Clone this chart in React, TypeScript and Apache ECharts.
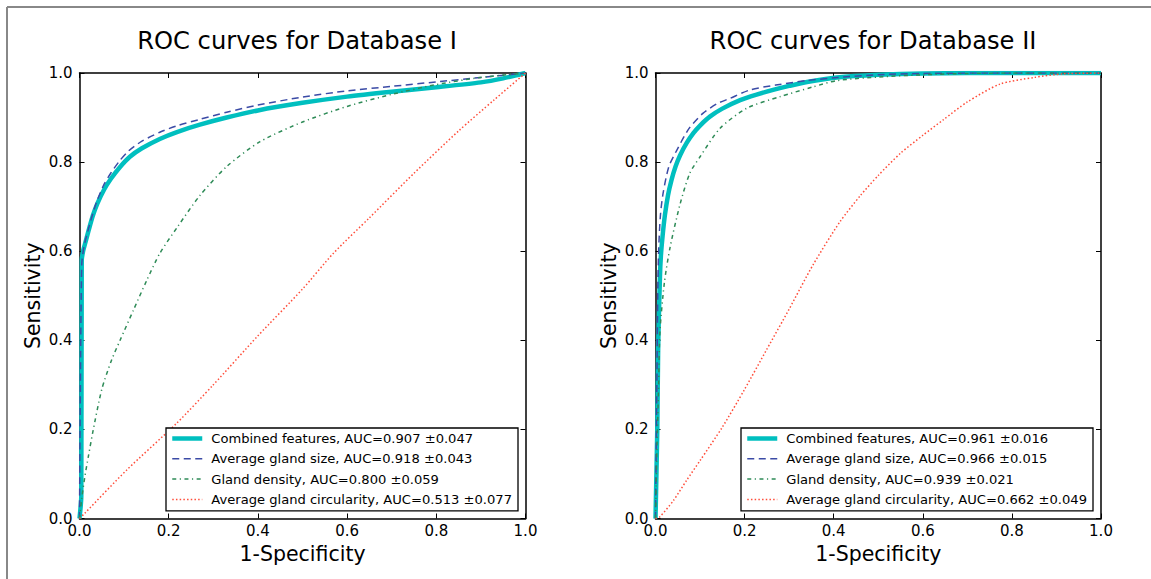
import React, { useEffect, useRef } from "react";
import * as echarts from "echarts";

const titles = ["ROC curves for Database I", "ROC curves for Database II"];
const xLabel = "1-Specificity";
const yLabel = "Sensitivity";
const ticks = [0, 0.2, 0.4, 0.6, 0.8, 1.0];
const featureNames = [
  "Combined features",
  "Average gland size",
  "Gland density",
  "Average gland circularity",
];
const aucI = ["0.907 ±0.047", "0.918 ±0.043", "0.800 ±0.059", "0.513 ±0.077"];
const aucII = ["0.961 ±0.016", "0.966 ±0.015", "0.939 ±0.021", "0.662 ±0.049"];

type P = [number, number];

// Database I
const combinedI: P[] = [
  [0, 0], [0.004, 0.05], [0.005, 0.58], [0.008, 0.6], [0.012, 0.615], [0.02, 0.645],
  [0.03, 0.68], [0.04, 0.707], [0.055, 0.738], [0.07, 0.762], [0.09, 0.788],
  [0.113, 0.812], [0.14, 0.831], [0.18, 0.852], [0.22, 0.868], [0.27, 0.884],
  [0.33, 0.9], [0.4, 0.916], [0.5, 0.933], [0.6, 0.947], [0.7, 0.958],
  [0.8, 0.968], [0.9, 0.979], [0.95, 0.988], [1, 1],
];
const sizeI: P[] = [
  [0, 0], [0.002, 0.3], [0.005, 0.57], [0.01, 0.61], [0.02, 0.65], [0.03, 0.685],
  [0.04, 0.715], [0.055, 0.75], [0.07, 0.775], [0.09, 0.803], [0.11, 0.825],
  [0.14, 0.847], [0.18, 0.867], [0.22, 0.882], [0.27, 0.896], [0.33, 0.912],
  [0.4, 0.928], [0.5, 0.946], [0.6, 0.96], [0.7, 0.97], [0.8, 0.98], [0.9, 0.99], [1, 1],
];
const densityI: P[] = [
  [0, 0], [0.005, 0.045], [0.012, 0.094], [0.02, 0.14], [0.031, 0.2], [0.05, 0.29],
  [0.072, 0.356], [0.091, 0.4], [0.121, 0.468], [0.151, 0.535], [0.18, 0.595],
  [0.22, 0.655], [0.27, 0.725], [0.33, 0.79], [0.405, 0.846], [0.5, 0.89],
  [0.6, 0.925], [0.7, 0.952], [0.8, 0.974], [0.9, 0.99], [1, 1],
];
const circI: P[] = [
  [0, 0], [0.012, 0.012], [0.106, 0.109], [0.218, 0.214], [0.3, 0.3], [0.4, 0.41],
  [0.5, 0.515], [0.569, 0.595], [0.65, 0.675], [0.75, 0.775], [0.85, 0.87],
  [0.93, 0.94], [1, 1],
];

// Database II
const combinedII: P[] = [
  [0, 0], [0.004, 0.2], [0.006, 0.386], [0.01, 0.543], [0.012, 0.588], [0.016, 0.635],
  [0.021, 0.68], [0.028, 0.725], [0.036, 0.76], [0.045, 0.79], [0.055, 0.815],
  [0.07, 0.843], [0.085, 0.865], [0.1, 0.882], [0.122, 0.902], [0.15, 0.92],
  [0.19, 0.939], [0.225, 0.951], [0.264, 0.962], [0.3, 0.971], [0.34, 0.98],
  [0.407, 0.99], [0.5, 0.996], [0.6, 0.999], [0.8, 1], [1, 1],
];
const sizeII: P[] = [
  [0, 0], [0.003, 0.3], [0.005, 0.5], [0.007, 0.6], [0.011, 0.68], [0.017, 0.73],
  [0.03, 0.79], [0.048, 0.827], [0.075, 0.875], [0.107, 0.91], [0.14, 0.932],
  [0.167, 0.943], [0.212, 0.962], [0.27, 0.973], [0.34, 0.983], [0.41, 0.99],
  [0.5, 0.996], [0.6, 0.999], [0.8, 1], [1, 1],
];
const densityII: P[] = [
  [0, 0], [0.003, 0.15], [0.007, 0.3], [0.01, 0.42], [0.02, 0.53], [0.033, 0.61],
  [0.055, 0.705], [0.077, 0.775], [0.1, 0.812], [0.145, 0.876], [0.205, 0.921],
  [0.28, 0.947], [0.354, 0.969], [0.407, 0.983], [0.5, 0.991], [0.6, 0.996],
  [0.7, 0.999], [0.8, 1], [1, 1],
];
const circII: P[] = [
  [0, 0], [0.01, 0.004], [0.04, 0.04], [0.07, 0.086], [0.1, 0.13], [0.15, 0.205],
  [0.2, 0.29], [0.25, 0.38], [0.3, 0.47], [0.354, 0.57], [0.414, 0.666], [0.46, 0.725],
  [0.5, 0.77], [0.55, 0.82], [0.6, 0.86], [0.646, 0.895], [0.7, 0.935], [0.773, 0.975],
  [0.85, 0.99], [0.915, 0.998], [1, 1],
];

const FONT = "DejaVu Sans";

const lineStyles = [
  { color: "#00bfbf", width: 4.5, type: "solid" as any },
  { color: "#3b4ba6", width: 1.5, type: [7, 4.5] as any },
  { color: "#2e8b57", width: 1.5, type: [4, 3.5, 1.2, 3.5] as any },
  { color: "#ff4d3a", width: 1.5, type: [1.5, 2.2] as any },
];

const grids = [
  { left: 79.5, top: 73, width: 446, height: 445.5 },
  { left: 655.5, top: 73, width: 445.5, height: 445.5 },
];
const titleCenters = [297, 873];
const legendPos = [
  { left: 166, top: 428 },
  { left: 741, top: 428 },
];

export default function App() {
  const ref = useRef<HTMLDivElement>(null);
  useEffect(() => {
    if (!ref.current) return;
    const chart = echarts.init(ref.current, undefined, { renderer: "svg" });
    const panels = [
      { data: [combinedI, sizeI, densityI, circI], auc: aucI },
      { data: [combinedII, sizeII, densityII, circII], auc: aucII },
    ];
    const xAxis: any[] = [];
    const yAxis: any[] = [];
    const series: any[] = [];
    const legend: any[] = [];
    const title: any[] = [];
    const axisLineStyle = { color: "#000", width: 1.5 };
    const tickStyle = { show: true, inside: true, length: 5, lineStyle: { color: "#000", width: 1 } };
    panels.forEach((p, gi) => {
      title.push({
        text: titles[gi],
        left: titleCenters[gi],
        top: 29,
        padding: 0,
        textAlign: "center",
        textStyle: { fontFamily: FONT, fontSize: 24.2, fontWeight: "normal", color: "#000" },
      });
      const base = {
        type: "value",
        gridIndex: gi,
        min: ticks[0],
        max: ticks[ticks.length - 1],
        interval: 0.2,
        splitLine: { show: false },
        axisLine: { show: true, onZero: false, lineStyle: axisLineStyle },
        axisTick: tickStyle,
      };
      xAxis.push({
        ...base,
        position: "bottom",
        name: xLabel,
        nameLocation: "middle",
        nameGap: 22,
        nameTextStyle: { fontFamily: FONT, fontSize: 20.5, color: "#000" },
        axisLabel: {
          fontFamily: FONT, fontSize: 15, color: "#000", margin: 5,
          formatter: (v: number) => v.toFixed(1),
        },
      });
      xAxis.push({ ...base, position: "top", axisLabel: { show: false } });
      yAxis.push({
        ...base,
        position: "left",
        name: yLabel,
        nameLocation: "middle",
        nameGap: 36,
        nameTextStyle: { fontFamily: FONT, fontSize: 20.5, color: "#000" },
        axisLabel: {
          fontFamily: FONT, fontSize: 15, color: "#000", margin: 7,
          formatter: (v: number) => v.toFixed(1),
        },
      });
      yAxis.push({ ...base, position: "right", axisLabel: { show: false } });
      const items: any[] = [];
      p.data.forEach((d, si) => {
        const name = `${featureNames[si]}, AUC=${p.auc[si]}`;
        const ls = lineStyles[si];
        items.push({ name, lineStyle: { width: ls.width, type: ls.type, color: ls.color } });
        series.push({
          type: "line",
          name,
          xAxisIndex: gi * 2,
          yAxisIndex: gi * 2,
          data: d,
          symbol: "none",
          showSymbol: false,
          smooth: 0.25,
          lineStyle: { color: ls.color, width: ls.width, type: ls.type },
          itemStyle: { color: ls.color },
          emphasis: { disabled: true },
        });
      });
      legend.push({
        data: items,
        orient: "vertical",
        left: legendPos[gi].left,
        top: legendPos[gi].top,
        padding: [4, 6, 5, 4],
        itemWidth: 30,
        itemHeight: 14,
        itemGap: 7.3,
        borderColor: "#000",
        borderWidth: 1.3,
        backgroundColor: "#fff",
        selectedMode: false,
        itemStyle: { color: "rgba(0,0,0,0)", borderWidth: 0, opacity: 0 },
        textStyle: { fontFamily: FONT, fontSize: 13.1, color: "#000", padding: [0, 0, 0, 4] },
      });
    });
    chart.setOption({
      animation: false,
      backgroundColor: "#fff",
      title,
      grid: grids.map((g) => ({ ...g, containLabel: false })),
      xAxis,
      yAxis,
      series,
      legend,
      graphic: [
        { type: "line", shape: { x1: 7, y1: 7, x2: 7, y2: 579 }, style: { stroke: "#888", lineWidth: 2 } },
        { type: "line", shape: { x1: 7, y1: 7, x2: 1151, y2: 7 }, style: { stroke: "#888", lineWidth: 2 } },
      ],
    });
    return () => chart.dispose();
  }, []);
  return (
    <div
      ref={ref}
      style={{ position: "absolute", left: 0, top: 0, width: 1151, height: 579 }}
    />
  );
}
